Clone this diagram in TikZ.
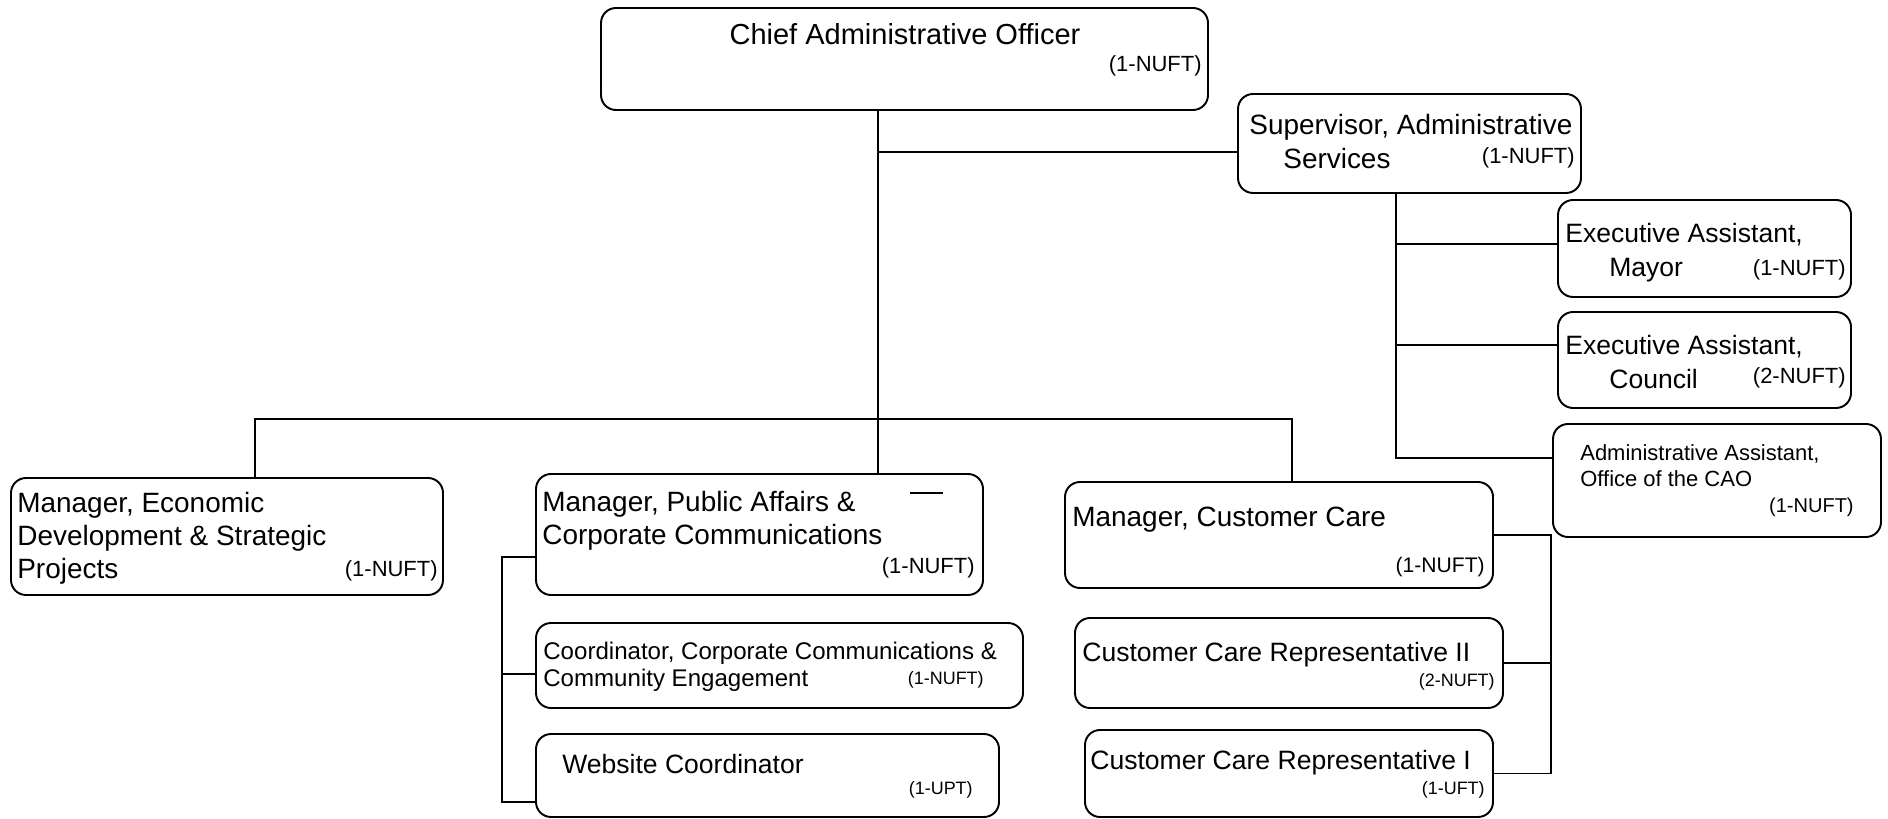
\documentclass[tikz,border=0pt]{standalone}
\usepackage{fontspec}
\setmainfont{Liberation Sans}

\begin{document}
\begin{tikzpicture}[
  x=1mm, y=1mm,
  box/.style={draw, rounded corners=3mm, line width=1.1pt, inner sep=0pt},
  txt/.style={anchor=west, inner sep=0pt, align=left, font=\fontsize{15.9}{18.8}\selectfont},
  tag/.style={anchor=east, inner sep=0pt, font=\fontsize{12.5}{15}\selectfont},
  smalltag/.style={font=\fontsize{10.2}{12}\selectfont},
  line/.style={line width=1pt}
]
\useasboundingbox (0,0) rectangle (377.6,-163.8);

% boxes
\node[box, minimum width=121.4mm, minimum height=20.4mm] (cao) at (180.9,-11.8) {};
\node[box, minimum width=68.6mm, minimum height=19.8mm] (sup) at (281.9,-28.7) {};
\node[box, minimum width=58.6mm, minimum height=19.4mm] (mayor) at (340.9,-49.7) {};
\node[box, minimum width=58.6mm, minimum height=19.2mm] (council) at (340.9,-72.0) {};
\node[box, minimum width=65.6mm, minimum height=22.6mm] (adminasst) at (343.4,-96.1) {};
\node[box, minimum width=86.4mm, minimum height=23.4mm] (econdev) at (45.4,-107.3) {};
\node[box, minimum width=89.4mm, minimum height=24.2mm] (pubaff) at (151.9,-106.9) {};
\node[box, minimum width=85.6mm, minimum height=21.2mm] (custcare) at (255.8,-107) {};
\node[box, minimum width=97.4mm, minimum height=17mm] (commcoord) at (155.9,-133.1) {};
\node[box, minimum width=92.6mm, minimum height=16.6mm] (webcoord) at (153.5,-155.1) {};
\node[box, minimum width=85.6mm, minimum height=18mm] (ccrep2) at (257.8,-132.6) {};
\node[box, minimum width=81.6mm, minimum height=17.4mm] (ccrep1) at (257.8,-154.7) {};

% texts
\node[txt, anchor=center, font=\fontsize{16.5}{19}\selectfont] (cao-t) at (181,-6.8) {Chief Administrative Officer};
\node[tag] (cao-n) at (240.4,-13.2) {(1-NUFT)};
\node[txt] (sup-t) at (249.8,-28.3) {Supervisor, Administrative\\\hspace*{6.8mm}Services};
\node[tag] (sup-n) at (315,-31.6) {(1-NUFT)};
\node[txt, font=\fontsize{15.1}{19.4}\selectfont] (mayor-t) at (313,-50.6) {Executive Assistant,\\\hspace*{8.8mm}Mayor};
\node[tag] (mayor-n) at (369.2,-54) {(1-NUFT)};
\node[txt, font=\fontsize{15.1}{19.4}\selectfont] (council-t) at (313,-72.4) {Executive Assistant,\\\hspace*{8.8mm}Council};
\node[tag] (council-n) at (369.2,-75.6) {(2-NUFT)};
\node[txt, font=\fontsize{12.5}{14.8}\selectfont] (adminasst-t) at (316,-93.2) {Administrative Assistant,\\Office of the CAO};
\node[tag, font=\fontsize{11.4}{13}\selectfont] (adminasst-n) at (370.8,-101.4) {(1-NUFT)};
\node[txt] (econdev-t) at (3.4,-107.6) {Manager, Economic\\Development \& Strategic\\Projects};
\node[tag] (econdev-n) at (87.6,-114.2) {(1-NUFT)};
\node[txt] (pubaff-t) at (108.4,-104.2) {Manager, Public Affairs \&\\Corporate Communications};
\node[tag] (pubaff-n) at (195,-113.6) {(1-NUFT)};
\node[txt] (custcare-t) at (214.4,-104) {Manager, Customer Care};
\node[tag, font=\fontsize{12}{14}\selectfont] (custcare-n) at (297,-113.4) {(1-NUFT)};
\node[txt, font=\fontsize{13.7}{15.4}\selectfont] (commcoord-t) at (108.6,-133.3) {Coordinator, Corporate Communications \&\\Community Engagement};
\node[tag, smalltag] (commcoord-n) at (196.8,-136) {(1-NUFT)};
\node[txt, font=\fontsize{15.1}{18}\selectfont] (webcoord-t) at (112.4,-152.8) {Website Coordinator};
\node[tag, smalltag] (webcoord-n) at (194.6,-158) {(1-UPT)};
\node[txt, font=\fontsize{15.1}{18}\selectfont] (ccrep2-t) at (216.4,-131) {Customer Care Representative II};
\node[tag, smalltag] (ccrep2-n) at (299,-136.4) {(2-NUFT)};
\node[txt, font=\fontsize{15.1}{18}\selectfont] (ccrep1-t) at (218,-152.6) {Customer Care Representative I};
\node[tag, smalltag] (ccrep1-n) at (297,-158) {(1-UFT)};

% CAO trunk and supervisor branch
\coordinate (trunk) at ([xshift=-5.3mm]cao.south);
\coordinate (supin) at ([yshift=-1.7mm]sup.west);
\draw[line] (trunk) -- (trunk |- pubaff.north);
\draw[line] (supin -| trunk) -- (supin);

% supervisor spine
\coordinate (spine) at ([xshift=-2.7mm]sup.south);
\coordinate (mayorin) at ([yshift=0.9mm]mayor.west);
\coordinate (councilin) at ([yshift=3mm]council.west);
\coordinate (adminin) at ([yshift=4.5mm]adminasst.west);
\draw[line] (spine) |- (adminin);
\draw[line] (mayorin -| spine) -- (mayorin);
\draw[line] (councilin -| spine) -- (councilin);

% managers bus
\coordinate (busl) at (51,-83.8);
\coordinate (busr) at (258.4,-83.8);
\draw[line] (busl |- econdev.north) -- (busl) -- (busr) -- (busr |- custcare.north);

% public affairs bracket
\coordinate (pain) at ([yshift=-4.5mm]pubaff.west);
\coordinate (pabus) at ([xshift=-6.6mm]pain);
\coordinate (coordin) at ([yshift=-1.7mm]commcoord.west);
\coordinate (webin) at ([yshift=-5.3mm]webcoord.west);
\draw[line] (pain) -- (pabus) |- (webin);
\draw[line] (coordin -| pabus) -- (coordin);

% customer care bracket
\coordinate (ccbus) at ([xshift=11.4mm]custcare.east);
\draw[line] (custcare.east) -- (ccbus) |- (ccrep1.east);
\draw[line] (ccrep2.east) -- (ccrep2.east -| ccbus);

% stray mark
\draw[line] (182,-98.6) -- (188.6,-98.6);
\end{tikzpicture}
\end{document}
